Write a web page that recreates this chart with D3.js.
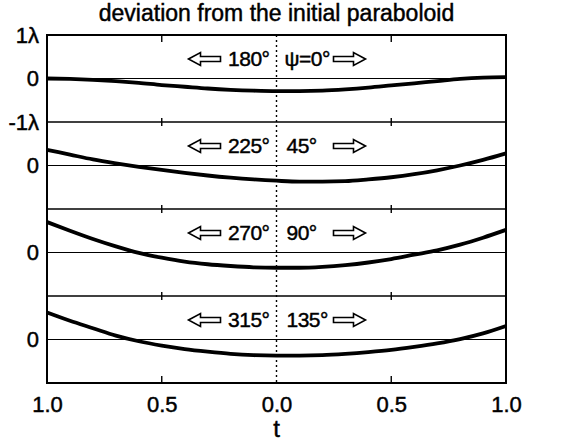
<!DOCTYPE html>
<html>
<head>
<meta charset="utf-8">
<script src="https://cdn.jsdelivr.net/npm/d3@7"></script>
<style>
  body { margin: 0; background: #fff; }
  text { font-family: "Liberation Sans", Arial, sans-serif; fill: #000; stroke: #000; stroke-width: 0.45px; }
</style>
</head>
<body>
<svg id="chart" width="566" height="443"></svg>
<script>
// t runs 1.0 -> 0.0 on the left (opposite azimuth) and 0.0 -> 1.0 on the right
var tValues = [-1.0, -0.9, -0.8, -0.7, -0.6, -0.5, -0.4, -0.3, -0.2, -0.1, 0.0,
               0.1, 0.2, 0.3, 0.4, 0.5, 0.6, 0.7, 0.8, 0.9, 1.0];

// deviation in units of lambda, one list per azimuth pair
var devPsi0   = [0.00, -0.01, -0.03, -0.06, -0.10, -0.15, -0.19, -0.23, -0.26, -0.28, -0.29,
                 -0.29, -0.28, -0.25, -0.21, -0.16, -0.11, -0.06, -0.01, 0.02, 0.03];
var devPsi45  = [0.36, 0.25, 0.14, 0.05, -0.03, -0.10, -0.17, -0.23, -0.28, -0.32, -0.35,
                 -0.37, -0.37, -0.36, -0.32, -0.27, -0.20, -0.11, 0.00, 0.13, 0.28];
var devPsi90  = [0.70, 0.50, 0.31, 0.14, -0.01, -0.12, -0.21, -0.27, -0.31, -0.34, -0.35,
                 -0.35, -0.33, -0.29, -0.23, -0.15, -0.05, 0.05, 0.18, 0.34, 0.52];
var devPsi135 = [0.62, 0.43, 0.26, 0.09, -0.04, -0.14, -0.22, -0.28, -0.33, -0.36, -0.37,
                 -0.37, -0.36, -0.33, -0.29, -0.24, -0.17, -0.09, 0.01, 0.14, 0.31];

var leftLabels  = ["180°", "225°", "270°", "315°"];
var rightLabels = ["ψ=0°", "45°", "90°", "135°"];

var xTicks = [-1, -0.5, 0, 0.5, 1];
var xTickLabels = ["1.0", "0.5", "0.0", "0.5", "1.0"];
var innerTicks = [-0.5, 0.5];

var series = [devPsi0, devPsi45, devPsi90, devPsi135];

var svg = d3.select("#chart"),
    margin = {top: 35, right: 60, bottom: 60, left: 47},
    width = +svg.attr("width") - margin.left - margin.right,
    height = +svg.attr("height") - margin.top - margin.bottom,
    g = svg.append("g").attr("transform", "translate(" + margin.left + "," + margin.top + ")");

var x = d3.scaleLinear().domain([-1, 1]).range([0, width]);
var band = d3.scaleBand().domain(d3.range(series.length)).range([0, height]);
var y = d3.scaleLinear().domain([-1, 1]).range([band.bandwidth(), 0]);

var line = d3.line()
    .x(function(d, i) { return x(tValues[i]); })
    .y(function(d) { return y(d); })
    .curve(d3.curveMonotoneX);

// title
svg.append("text")
    .attr("x", margin.left + x(0))
    .attr("y", 21)
    .attr("text-anchor", "middle")
    .style("font-size", "23px")
    .text("deviation from the initial paraboloid");

var panel = g.selectAll(".panel")
  .data(series)
  .enter().append("g")
    .attr("class", "panel")
    .attr("transform", function(d, i) { return "translate(0," + band(i) + ")"; });

// zero line
panel.append("line")
    .attr("x1", 0).attr("x2", width)
    .attr("y1", y(0)).attr("y2", y(0))
    .attr("stroke", "#000").attr("stroke-width", 1.1);

// curve
panel.append("path")
    .attr("d", line)
    .attr("fill", "none")
    .attr("stroke", "#000")
    .attr("stroke-width", 3.8);

// y labels
panel.each(function(d, i) {
  var ax = d3.axisLeft(y)
      .tickValues(i === 0 ? [-1, 0, 1] : [0])
      .tickFormat(function(v) { return v === 0 ? "0" : (v > 0 ? "1λ" : "-1λ"); })
      .tickSize(0)
      .tickPadding(8);
  var a = d3.select(this).append("g").call(ax);
  a.select(".domain").remove();
  a.selectAll("text").style("font-size", "22px").style("font-family", "Liberation Sans, Arial, sans-serif");
});

// panel dividers
g.selectAll(".divider")
  .data(d3.range(1, series.length))
  .enter().append("line")
    .attr("x1", 0).attr("x2", width)
    .attr("y1", function(i) { return band(i); })
    .attr("y2", function(i) { return band(i); })
    .attr("stroke", "#000").attr("stroke-width", 1.6);

// small ticks at t = 0.5 on every horizontal edge
d3.range(0, series.length + 1).forEach(function(i) {
  var yy = i === series.length ? height : band(i);
  var y1 = yy - 4, y2 = yy + 4;
  if (i === 0) { y1 = 0; y2 = 7; }
  if (i === series.length) { y1 = height - 7; y2 = height; }
  g.selectAll(null)
    .data(innerTicks)
    .enter().append("line")
      .attr("x1", function(d) { return x(d); })
      .attr("x2", function(d) { return x(d); })
      .attr("y1", y1).attr("y2", y2)
      .attr("stroke", "#000").attr("stroke-width", 1.4);
});

// dotted centre line
g.append("line")
    .attr("x1", x(0)).attr("x2", x(0))
    .attr("y1", 0).attr("y2", height)
    .attr("stroke", "#000")
    .attr("stroke-width", 1.4)
    .attr("stroke-dasharray", "2,3");

// frame
g.append("rect")
    .attr("width", width).attr("height", height)
    .attr("fill", "none")
    .attr("stroke", "#000").attr("stroke-width", 2);

// azimuth labels with outline arrows
function arrowPath(dir) {
  // tip at 0, total length 32
  var L = 32, h = 12, w = 6.5, s = 2.5;
  var p = [[0, 0], [h, -w], [h, -s], [L, -s], [L, s], [h, s], [h, w]];
  return "M" + p.map(function(q) { return (dir * q[0]) + "," + q[1]; }).join("L") + "Z";
}

panel.each(function(d, i) {
  var sel = d3.select(this), ly = 24;
  sel.append("text")
      .attr("x", x(0) - 7).attr("y", ly)
      .attr("dy", "0.35em")
      .attr("text-anchor", "end")
      .style("font-size", "21px")
      .style("letter-spacing", "-0.5px")
      .text(leftLabels[i]);
  sel.append("text")
      .attr("x", x(0) + (i === 0 ? 8 : 10)).attr("y", ly)
      .attr("dy", "0.35em")
      .attr("text-anchor", "start")
      .style("font-size", "21px")
      .style("letter-spacing", "-0.5px")
      .text(rightLabels[i]);
  sel.append("path")
      .attr("transform", "translate(" + (x(0) - 88) + "," + ly + ")")
      .attr("d", arrowPath(1))
      .attr("fill", "#fff").attr("stroke", "#000").attr("stroke-width", 1.6);
  sel.append("path")
      .attr("transform", "translate(" + (x(0) + 89) + "," + ly + ")")
      .attr("d", arrowPath(-1))
      .attr("fill", "#fff").attr("stroke", "#000").attr("stroke-width", 1.6);
});

// x axis labels
var xa = g.append("g")
    .attr("transform", "translate(0," + height + ")")
    .call(d3.axisBottom(x)
      .tickValues(xTicks)
      .tickFormat(function(d, i) { return xTickLabels[i]; })
      .tickSize(0)
      .tickPadding(13));
xa.select(".domain").remove();
xa.selectAll("text").style("font-size", "22px").style("font-family", "Liberation Sans, Arial, sans-serif");

svg.append("text")
    .attr("x", margin.left + x(0))
    .attr("y", 437)
    .attr("text-anchor", "middle")
    .style("font-size", "24px")
    .text("t");
</script>
</body>
</html>
